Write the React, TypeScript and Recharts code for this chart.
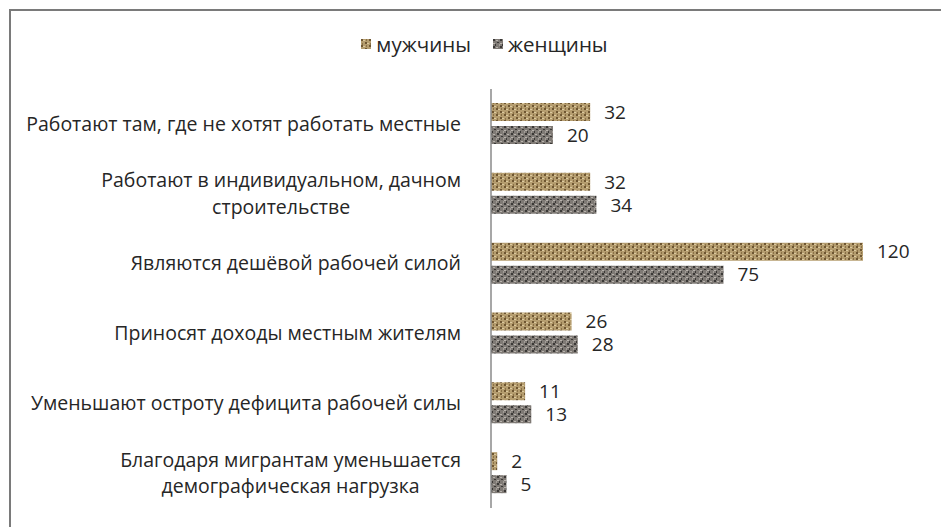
import React from 'react';
import { BarChart, Bar, XAxis, YAxis, Legend, LabelList } from 'recharts';

const categories = [
  'Работают там, где не хотят работать местные',
  'Работают в индивидуальном, дачном\nстроительстве',
  'Являются дешёвой рабочей силой',
  'Приносят доходы местным жителям',
  'Уменьшают остроту дефицита рабочей силы',
  'Благодаря мигрантам уменьшается\nдемографическая нагрузка',
];
const men = [32, 32, 120, 26, 11, 2];
const women = [20, 34, 75, 28, 13, 5];
const seriesNames = ['мужчины', 'женщины'];

const data = categories.map((c, i) => ({ cat: c, men: men[i], women: women[i] }));

const FONT = '"Open Sans", sans-serif';
const LABEL_FONT_SIZE = 19.5;
const LEGEND_H = 24;

let ctx: CanvasRenderingContext2D | null = null;
function measure(t: string, size: number) {
  if (!ctx) ctx = document.createElement('canvas').getContext('2d');
  if (!ctx) return t.length * size * 0.5;
  ctx.font = `${size}px "Open Sans"`;
  return ctx.measureText(t).width;
}

const CatTick = (props: any) => {
  const { x, y, payload } = props;
  const lines: string[] = String(payload.value).split('\n');
  const maxW = Math.max(...lines.map((l) => measure(l, LABEL_FONT_SIZE)));
  const right = x - 22;
  const cx = right - maxW / 2;
  const lh = 26.5;
  const start = y - ((lines.length - 1) * lh) / 2;
  return (
    <text x={cx} y={start} textAnchor="middle" fontFamily={FONT} fontSize={LABEL_FONT_SIZE} fill="#262626">
      {lines.map((l, i) => (
        <tspan key={i} x={cx} y={start + i * lh} dy="0.35em">{l}</tspan>
      ))}
    </text>
  );
};

const LegendContent = () => (
  <div style={{ display: 'flex', justifyContent: 'center', alignItems: 'center', gap: 22, height: LEGEND_H, fontFamily: FONT, fontSize: 20.5, color: '#262626', marginLeft: 28 }}>
    {seriesNames.map((n, i) => (
      <div key={n} style={{ display: 'flex', alignItems: 'center' }}>
        <svg width={10} height={10} style={{ marginRight: 5 }}>
          <rect width={10} height={10} fill={i === 0 ? 'url(#patMen)' : 'url(#patWomen)'} />
        </svg>
        <span>{n}</span>
      </div>
    ))}
  </div>
);

export default function App() {
  return (
    <div style={{ position: 'relative', width: 941, height: 527, overflow: 'hidden', background: '#fff' }}>
      <style>{`body{margin:0;overflow:hidden}`}</style>
      <div style={{ position: 'absolute', left: 9, top: 9, width: 1000, height: 600, border: '2px solid #7a7a7a' }} />
      <svg width={0} height={0} style={{ position: 'absolute' }}>
        <defs>
          <pattern id="patMen" width="8" height="6" patternUnits="userSpaceOnUse">
            <rect width="8" height="6" fill="#b59d6f" />
            <rect x="0" y="0" width="2" height="2" fill="#6e5632" />
            <rect x="4" y="3" width="2" height="2" fill="#6e5632" />
            <rect x="2" y="1" width="2" height="1" fill="#dccaa0" />
            <rect x="6" y="4" width="2" height="1" fill="#dccaa0" />
            <rect x="5" y="0" width="1" height="2" fill="#8b7248" />
            <rect x="1" y="4" width="1" height="2" fill="#8b7248" />
          </pattern>
          <pattern id="patWomen" width="7" height="7" patternUnits="userSpaceOnUse">
            <rect width="7" height="7" fill="#7f7a75" />
            <rect x="0" y="0" width="2" height="2" fill="#3b3937" />
            <rect x="4" y="3" width="2" height="1" fill="#3b3937" />
            <rect x="2" y="5" width="1" height="2" fill="#3b3937" />
            <rect x="3" y="1" width="2" height="1" fill="#b8b3ad" />
            <rect x="0" y="4" width="2" height="1" fill="#b8b3ad" />
            <rect x="6" y="5" width="1" height="2" fill="#a39e98" />
          </pattern>
        </defs>
      </svg>
      <div style={{ position: 'absolute', left: 0, top: 0 }}>
        <BarChart width={941} height={527} data={data} layout="vertical"
          margin={{ top: 89 - LEGEND_H, right: 47, bottom: 19, left: 0 }} barSize={18} barGap={5}>
          <XAxis type="number" domain={[0, 130]} hide />
          <YAxis type="category" dataKey="cat" width={491} axisLine={{ stroke: '#8a8a8a', strokeWidth: 1.5 }}
            tickLine={false} tick={<CatTick />} interval={0} />
          <Legend verticalAlign="top" align="center" content={<LegendContent />}
            wrapperStyle={{ top: 32, left: 0, width: 941, height: LEGEND_H }} />
          <Bar dataKey="men" name={seriesNames[0]} fill="url(#patMen)" isAnimationActive={false}>
            <LabelList dataKey="men" position="right" offset={14} fontFamily={FONT} fontSize={19} fill="#262626" />
          </Bar>
          <Bar dataKey="women" name={seriesNames[1]} fill="url(#patWomen)" isAnimationActive={false}>
            <LabelList dataKey="women" position="right" offset={14} fontFamily={FONT} fontSize={19} fill="#262626" />
          </Bar>
        </BarChart>
      </div>
    </div>
  );
}
